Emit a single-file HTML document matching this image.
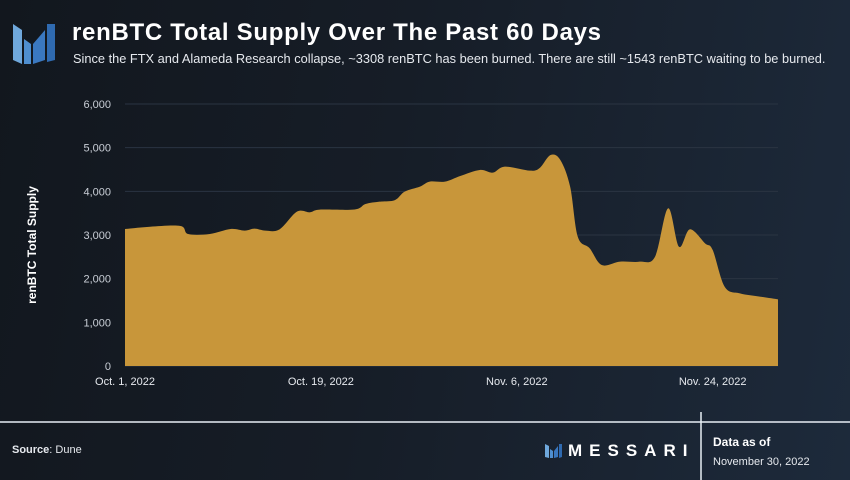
<!DOCTYPE html>
<html><head><meta charset="utf-8"><style>
body{margin:0;width:850px;height:480px;overflow:hidden;font-family:"Liberation Sans",sans-serif;}
#wrap{position:relative;width:850px;height:480px;background:linear-gradient(100deg,#12171e 0%,#161d27 45%,#1d2a3b 100%);}
.t{position:absolute;color:#fff;white-space:nowrap}
</style></head><body>
<div id="wrap">
<svg width="850" height="480" style="position:absolute;left:0;top:0" id="svg">
 <g>
  <polygon points="13,24 22,30 22,64 13,60" fill="#6fa8dc"/>
  <polygon points="24,39 31,44 31,64 24,64" fill="#4f8fd0"/>
  <polygon points="33,44 45,30 45,60 33,64" fill="#3a78c0"/>
  <polygon points="47,24 55,24 55,60 47,62" fill="#2f6ab0"/>
 </g>
 <g id="grid"></g><g id="area"></g><g id="axes"></g>
 <line x1="0" y1="422" x2="850" y2="422" stroke="#e8eef5" stroke-width="1.5"/>
 <line x1="701" y1="412" x2="701" y2="480" stroke="#e8eef5" stroke-width="1.5"/>
 <g>
  <polygon points="545,444 549,446 549,458 545,457" fill="#6fa8dc"/>
  <polygon points="550,449 553,451 553,458 550,458" fill="#4f8fd0"/>
  <polygon points="554,451 558,446 558,457 554,458" fill="#3a78c0"/>
  <polygon points="559,444 562,444 562,457 559,458" fill="#2f6ab0"/>
 </g>
</svg>
<div class="t" style="left:72px;top:19px;font-size:24px;font-weight:bold;letter-spacing:0.7px">renBTC Total Supply Over The Past 60 Days</div>
<div class="t" style="left:73px;top:51px;font-size:12.8px;color:#e6e9ee">Since the FTX and Alameda Research collapse, ~3308 renBTC has been burned. There are still ~1543 renBTC waiting to be burned.</div>
<div class="t" style="left:32px;top:245px;font-size:12px;font-weight:bold;transform:translate(-50%,-50%) rotate(-90deg)">renBTC Total Supply</div>
<div class="t" style="left:12px;top:444px;font-size:11px;color:#e6e9ee"><b>Source</b>: Dune</div>
<div class="t" style="left:568px;top:441px;font-size:17px;font-weight:bold;letter-spacing:7px">MESSARI</div>
<div class="t" style="left:713px;top:435px;font-size:12px;font-weight:bold">Data as of</div>
<div class="t" style="left:713px;top:456px;font-size:11px;color:#e6e9ee">November 30, 2022</div>
</div>
<script>
const days=[0,2.3,5.1,5.8,7.8,9.7,11,11.9,12.9,14.2,15.8,17,17.9,21.1,22.1,23.4,24.8,25.7,27.1,28,29.4,30.8,32.6,33.8,34.9,37.2,38.1,39.1,40,40.9,41.6,42.7,43.8,45.5,47.3,48.7,49.9,50.9,51.9,53.3,54,55.1,56.5,58.4,60];
const supply=[3137,3190,3206,3023,3023,3137,3100,3145,3100,3130,3535,3520,3580,3585,3710,3763,3800,3993,4107,4222,4222,4351,4489,4428,4565,4473,4534,4832,4718,4107,2962,2695,2313,2389,2389,2503,3611,2732,3130,2809,2656,1816,1664,1587,1527];
const yTicks=[0,1000,2000,3000,4000,5000,6000];
const xTickDays=[0,18,36,54];
const xTickLabels=["Oct. 1, 2022","Oct. 19, 2022","Nov. 6, 2022","Nov. 24, 2022"];
const NS="http://www.w3.org/2000/svg";
const X0=125,X1=778,Y0=366,Y1=104;
const xs=d=>X0+(d-days[0])/(days[days.length-1]-days[0])*(X1-X0);
const ys=v=>Y0-v/6000*(Y0-Y1);
function mk(tag,attrs,parent){const e=document.createElementNS(NS,tag);for(const k in attrs)e.setAttribute(k,attrs[k]);parent.appendChild(e);return e;}
const grid=document.getElementById('grid'),axes=document.getElementById('axes'),area=document.getElementById('area');
yTicks.forEach(v=>{
 const l=mk('line',{x1:X0,x2:X1,y1:ys(v),y2:ys(v),stroke:'#2a3442','stroke-width':1},grid);
 
 
 const t=mk('text',{x:X0-14,y:ys(v)+4,'text-anchor':'end','font-size':11,fill:'#c9ced6','font-family':'Liberation Sans, sans-serif'},axes);
 t.textContent=v.toLocaleString('en-US');
 
 
});
xTickDays.forEach((d,i)=>{
 const t=mk('text',{x:xs(d),y:385,'text-anchor':'middle','font-size':11,fill:'#e6e9ee','font-family':'Liberation Sans, sans-serif'},axes);
 t.textContent=xTickLabels[i];
 
 
});
const pts=days.map((d,i)=>[xs(d),ys(supply[i])]);
let p=`M${pts[0][0]},${Y0} L${pts[0][0]},${pts[0][1]}`;
for(let i=0;i<pts.length-1;i++){
 const p0=pts[Math.max(0,i-1)],p1=pts[i],p2=pts[i+1],p3=pts[Math.min(pts.length-1,i+2)];
 const c1=[p1[0]+(p2[0]-p0[0])/6,p1[1]+(p2[1]-p0[1])/6],c2=[p2[0]-(p3[0]-p1[0])/6,p2[1]-(p3[1]-p1[1])/6];
 p+=` C${c1[0]},${c1[1]} ${c2[0]},${c2[1]} ${p2[0]},${p2[1]}`;
}
p+=` L${pts[pts.length-1][0]},${Y0} Z`;
const a=mk('path',{d:p,fill:'#c8963a'},area);


</script>
</body></html>
